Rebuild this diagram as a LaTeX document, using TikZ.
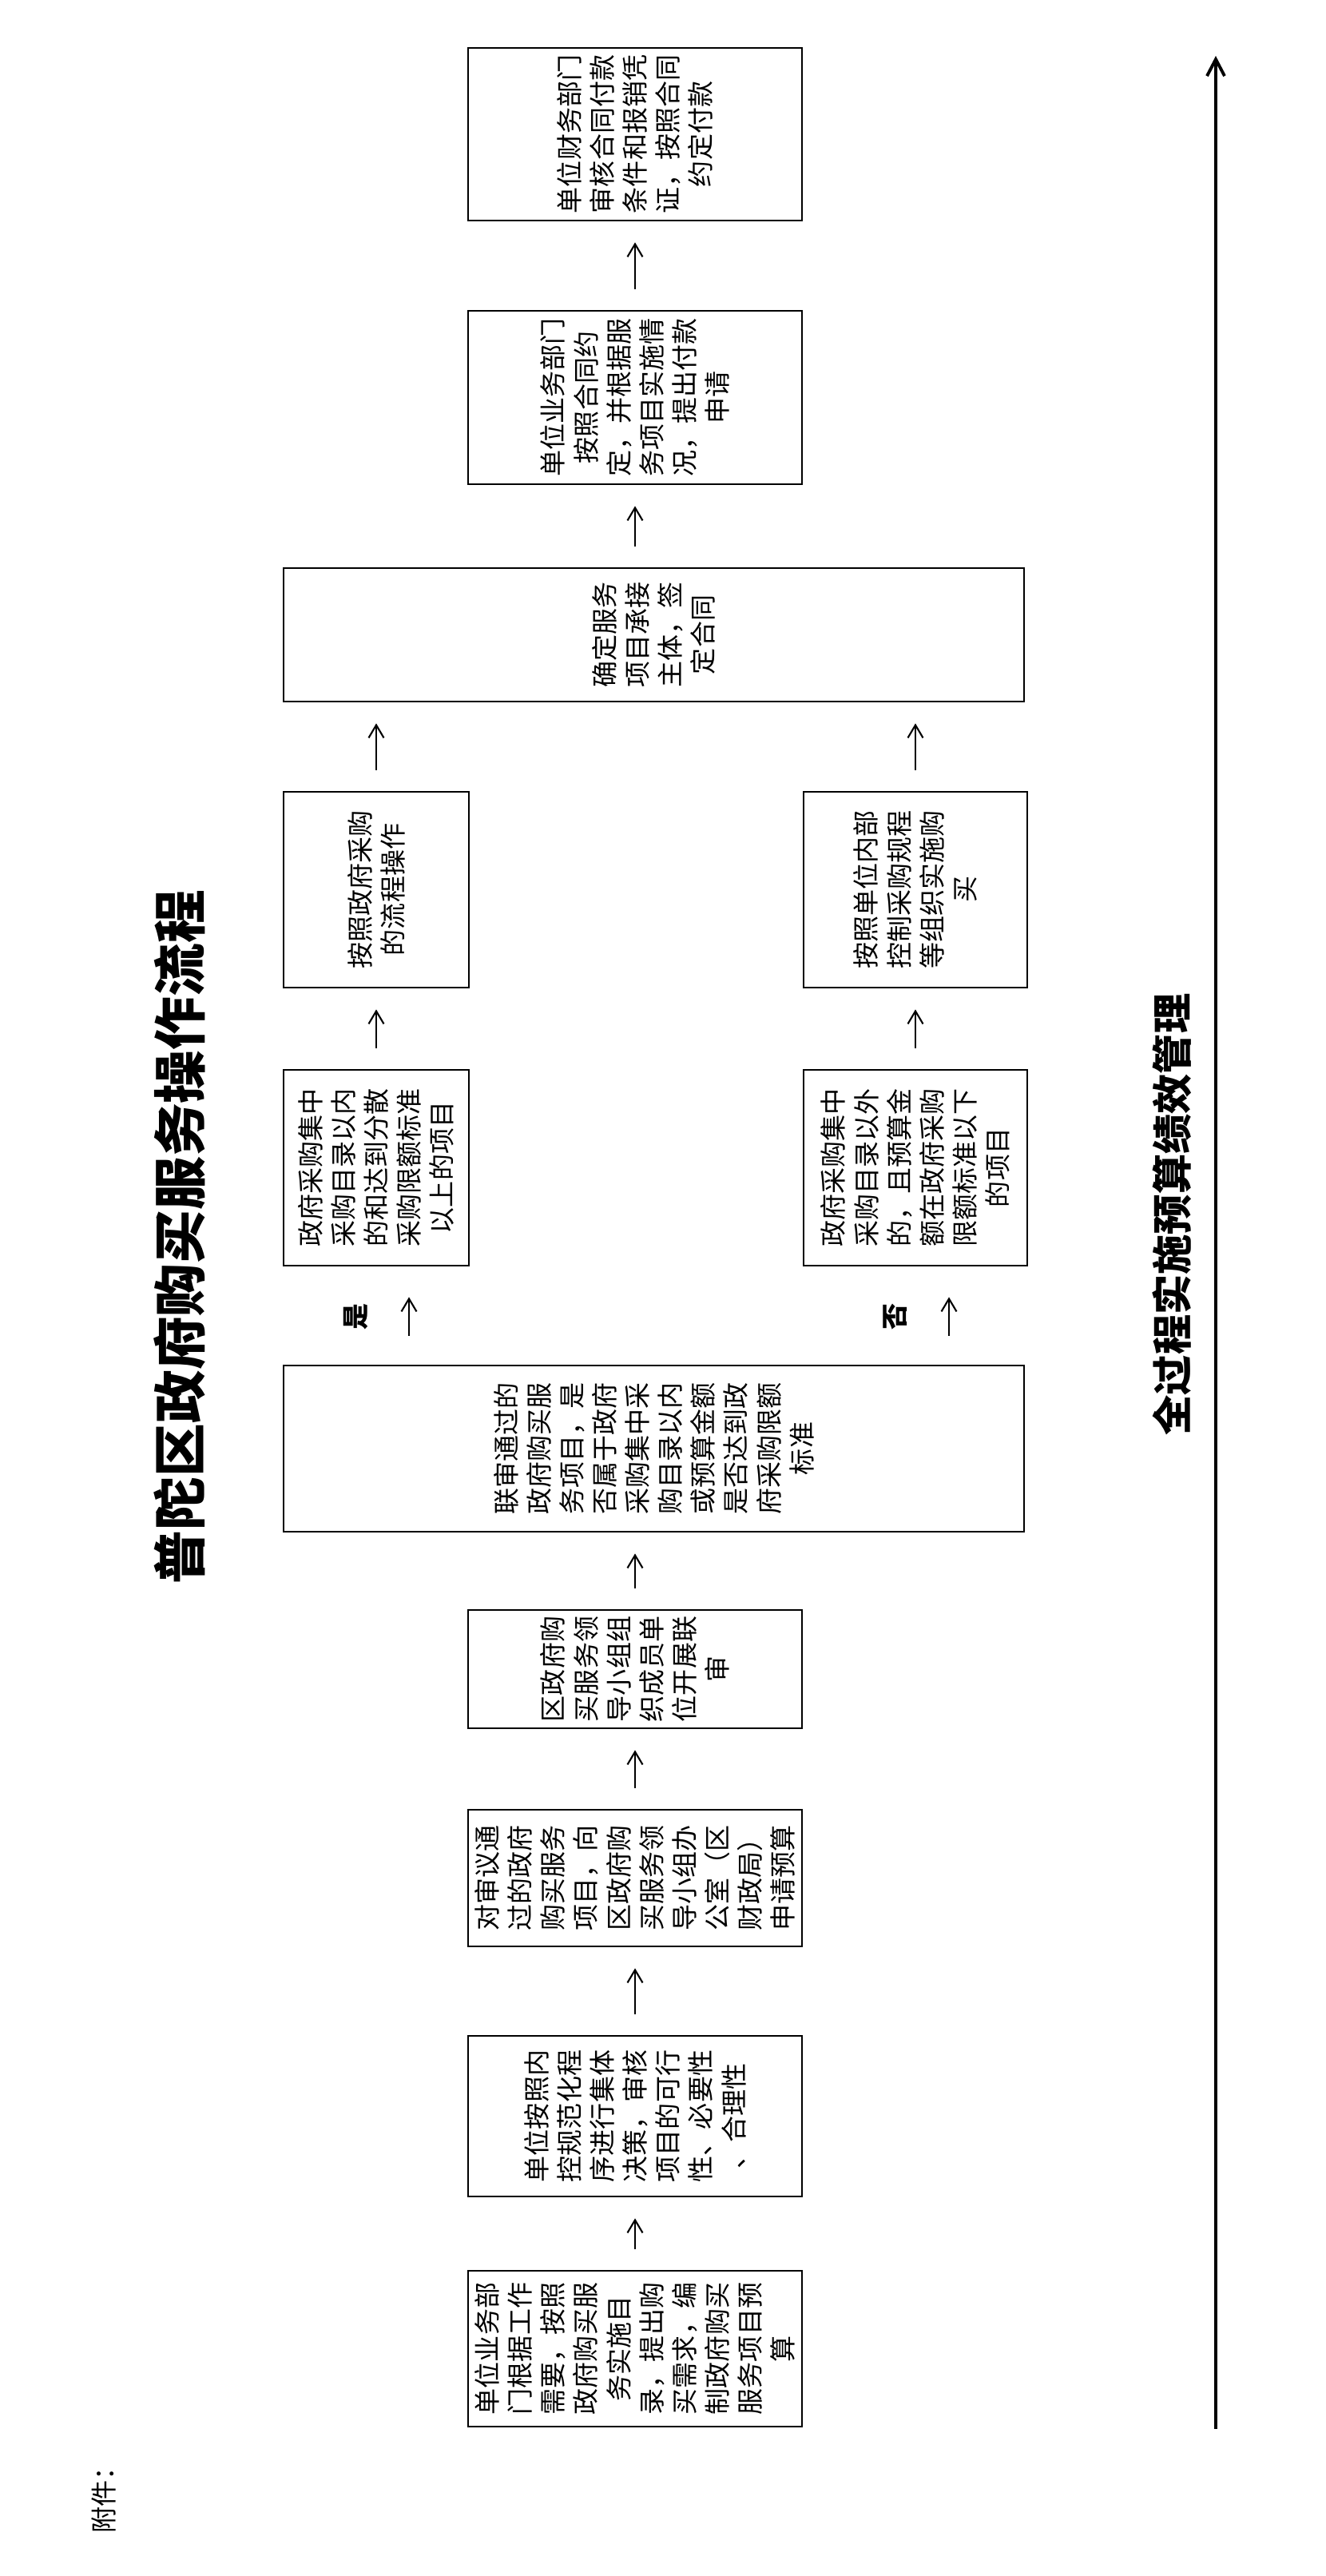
\documentclass[tikz,border=0pt]{standalone}
\usepackage{fontspec}
\setmainfont{Noto Sans CJK SC}
\usetikzlibrary{arrows.meta}
\usetikzlibrary{calc}
\tikzset{stepbox/.style={draw,line width=0.8pt,rotate=90,align=center,inner sep=0pt,font=\fontsize{9.4pt}{11.7pt}\selectfont},
arr/.style={-{Straight Barb[length=1.6mm,width=1.9mm]},line width=0.6pt,shorten <=0.26cm,shorten >=0.26cm},
lbl/.style={rotate=90,font=\fontsize{9.4pt}{11.7pt}\selectfont\bfseries}}

\begin{document}
\begin{tikzpicture}
%[scale=0.7, every node/.style={scale=0.7}]
\useasboundingbox (0,0) rectangle (16.6,32.24);

\node (title) at (2.25,16.76) [rotate=90,font=\fontsize{19pt}{19pt}\selectfont\bfseries] {普陀区政府购买服务操作流程};
\node (att) at (1.30,1.03) [rotate=90,font=\fontsize{9.4pt}{11.7pt}\selectfont] {附件：};

\node (a) at (7.95,2.845) [stepbox,minimum width=1.95cm,minimum height=4.18cm] {单位业务部\\门根据工作\\需要，按照\\政府购买服\\务实施目\\录，提出购\\买需求，编\\制政府购买\\服务项目预\\算};
\node (e) at (7.95,5.755) [stepbox,minimum width=2.01cm,minimum height=4.18cm] {单位按照内\\控规范化程\\序进行集体\\决策，审核\\项目的可行\\性、必要性\\、合理性};
\node (d) at (7.95,8.735) [stepbox,minimum width=1.71cm,minimum height=4.18cm] {对审议通\\过的政府\\购买服务\\项目，向\\区政府购\\买服务领\\导小组办\\公室（区\\财政局）\\申请预算};
\node (c) at (7.95,11.35) [stepbox,minimum width=1.48cm,minimum height=4.18cm] {区政府购\\买服务领\\导小组组\\织成员单\\位开展联\\审};
\node (bx) at (8.185,14.11) [stepbox,minimum width=2.08cm,minimum height=9.27cm] {联审通过的\\政府购买服\\务项目，是\\否属于政府\\采购集中采\\购目录以内\\或预算金额\\是否达到政\\府采购限额\\标准};
\node (q1) at (4.71,17.625) [stepbox,minimum width=2.45cm,minimum height=2.32cm] {政府采购集中\\采购目录以内\\的和达到分散\\采购限额标准\\以上的项目};
\node (q2) at (11.46,17.625) [stepbox,minimum width=2.45cm,minimum height=2.80cm] {政府采购集中\\采购目录以外\\的，且预算金\\额在政府采购\\限额标准以下\\的项目};
\node (p1) at (4.71,21.105) [stepbox,minimum width=2.45cm,minimum height=2.32cm] {按照政府采购\\的流程操作};
\node (p2) at (11.46,21.105) [stepbox,minimum width=2.45cm,minimum height=2.80cm] {按照单位内部\\控制采购规程\\等组织实施购\\买};
\node (ws) at (8.185,24.295) [stepbox,minimum width=1.67cm,minimum height=9.27cm] {确定服务\\项目承接\\主体，签\\定合同};
\node (fa) at (7.95,27.265) [stepbox,minimum width=2.17cm,minimum height=4.18cm] {单位业务部门\\按照合同约\\定，并根据服\\务项目实施情\\况，提出付款\\申请};
\node (fb) at (7.95,30.56) [stepbox,minimum width=2.16cm,minimum height=4.18cm] {单位财务部门\\审核合同付款\\条件和报销凭\\证，按照合同\\约定付款};

\node (yes) at (4.45,15.76) [lbl] {是};
\node (no) at (11.21,15.76) [lbl] {否};

\draw[arr] (a) -- (e);
\draw[arr] (e) -- (d);
\draw[arr] (d) -- (c);
\draw[arr] (c) -- (c |- bx.west);
\draw[arr,shorten <=0.36cm,shorten >=0.38cm] ($(q1.west |- bx.east)+(0.41,0)$) -- ($(q1.west)+(0.41,0)$);
\draw[arr,shorten <=0.36cm,shorten >=0.38cm] ($(q2.west |- bx.east)+(0.42,0)$) -- ($(q2.west)+(0.42,0)$);
\draw[arr] (q1) -- (p1);
\draw[arr] (q2) -- (p2);
\draw[arr] (p1) -- (p1 |- ws.west);
\draw[arr] (p2) -- (p2 |- ws.west);
\draw[arr] (ws.east -| fa) -- (fa);
\draw[arr] (fa) -- (fb);

\coordinate (tb) at (15.22,1.84);
\coordinate (tt) at (15.22,31.54);
\draw[-{Straight Barb[length=2.1mm,width=2.2mm]},line width=1.1pt] (tb) -- (tt);
\node (whole) at (14.67,17.04) [rotate=90,font=\fontsize{14.3pt}{14.3pt}\selectfont\bfseries] {全过程实施预算绩效管理};

\end{tikzpicture}
\end{document}
